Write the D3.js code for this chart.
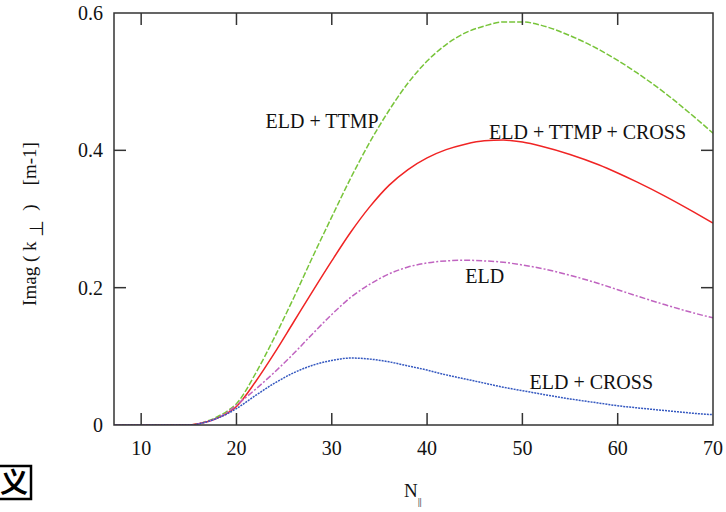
<!DOCTYPE html>
<html lang="en">
<head>
<meta charset="utf-8">
<title>Imag(k perp) vs N parallel</title>
<script src="https://d3js.org/d3.v7.min.js"></script>
<style>
* { margin: 0; padding: 0; }
body { background: #fff; font-family: 'Liberation Serif', 'DejaVu Serif', serif; }
</style>
</head>
<body>
<script>
let w = 726, h = 512;
let padLeft = 114, padRight = 713, padTop = 13, padBottom = 425;

// N parallel sample points
let nPar = [7, 15, 16, 17, 18, 19, 20, 22, 24, 26, 28, 30, 32, 34, 36, 38, 40, 42, 44, 46, 48, 50, 52, 55, 58, 60, 62, 65, 68, 70];

// Imag(k perp) for each case
let eldTtmp = [0, 0, 0.002, 0.006, 0.012, 0.02, 0.031, 0.075, 0.128, 0.185, 0.245, 0.303, 0.36, 0.412, 0.458, 0.498, 0.53, 0.554, 0.571, 0.581, 0.587, 0.587, 0.582, 0.567, 0.547, 0.531, 0.513, 0.483, 0.449, 0.425];
let eldTtmpCross = [0, 0, 0.002, 0.005, 0.01, 0.017, 0.027, 0.063, 0.105, 0.15, 0.195, 0.239, 0.281, 0.318, 0.349, 0.372, 0.389, 0.401, 0.409, 0.414, 0.415, 0.412, 0.406, 0.394, 0.379, 0.367, 0.354, 0.333, 0.31, 0.294];
let eld = [0, 0, 0.0015, 0.005, 0.01, 0.018, 0.029, 0.052, 0.077, 0.104, 0.133, 0.161, 0.186, 0.205, 0.22, 0.23, 0.236, 0.239, 0.24, 0.239, 0.237, 0.233, 0.228, 0.218, 0.206, 0.197, 0.188, 0.175, 0.163, 0.156];
let eldCross = [0, 0, 0.0015, 0.005, 0.01, 0.016, 0.024, 0.043, 0.061, 0.076, 0.087, 0.094, 0.0975, 0.096, 0.092, 0.086, 0.08, 0.073, 0.067, 0.061, 0.055, 0.05, 0.045, 0.038, 0.032, 0.028, 0.025, 0.021, 0.017, 0.015];

let xTicks = [10, 20, 30, 40, 50, 60, 70];
let yTicks = [0, 0.2, 0.4, 0.6];

let series = [
  {name: "ELD + TTMP", vals: eldTtmp, color: "#78c43a", dash: "6,2", lx: 23.05, ly: 0.432},
  {name: "ELD + TTMP + CROSS", vals: eldTtmpCross, color: "#f02424", dash: null, lx: 46.5, ly: 0.417},
  {name: "ELD", vals: eld, color: "#c064c0", dash: "6,2,2,2", lx: 44.0, ly: 0.207},
  {name: "ELD + CROSS", vals: eldCross, color: "#3458c0", dash: "2,1", lx: 50.75, ly: 0.052}
];

let x = d3.scaleLinear().domain([7.15, 70]).range([padLeft, padRight]);
let y = d3.scaleLinear().domain([0, 0.6]).range([padBottom, padTop]);

let svg = d3.select("body").append("svg")
  .attr("width", w)
  .attr("height", h);

let line = d3.line()
  .x((d, i) => x(nPar[i]))
  .y(d => y(d))
  .curve(d3.curveMonotoneX);

svg.append("defs").append("clipPath").attr("id", "plot")
  .append("rect").attr("x", padLeft).attr("y", padTop).attr("width", padRight - padLeft).attr("height", padBottom - padTop);

// curves
svg.append("g").attr("clip-path", "url(#plot)")
  .selectAll("path")
  .data(series)
  .enter()
  .append("path")
  .attr("d", d => line(d.vals))
  .attr("fill", "none")
  .attr("stroke", d => d.color)
  .attr("stroke-width", 1.5)
  .attr("stroke-dasharray", d => d.dash);

// curve labels
svg.append("g").selectAll("text")
  .data(series)
  .enter()
  .append("text")
  .text(d => d.name)
  .attr("x", d => x(d.lx))
  .attr("y", d => y(d.ly))
  .attr("font-size", 20)
  .attr("fill", "#111");

// frame with inward ticks on every side
let axisColor = "#333";
let tickLen = 12;
let frame = svg.append("g").attr("stroke", axisColor).attr("stroke-width", 1.5);
frame.append("rect")
  .attr("x", padLeft).attr("y", padTop)
  .attr("width", padRight - padLeft).attr("height", padBottom - padTop)
  .attr("fill", "none");

let innerX = xTicks.filter(t => t < 70);
frame.selectAll(".xb").data(innerX).enter().append("line")
  .attr("x1", d => x(d)).attr("x2", d => x(d))
  .attr("y1", padBottom).attr("y2", padBottom - tickLen);
frame.selectAll(".xt").data(innerX).enter().append("line")
  .attr("x1", d => x(d)).attr("x2", d => x(d))
  .attr("y1", padTop).attr("y2", padTop + tickLen);

let innerY = yTicks.filter(t => t > 0 && t < 0.6);
frame.selectAll(".yl").data(innerY).enter().append("line")
  .attr("x1", padLeft).attr("x2", padLeft + tickLen)
  .attr("y1", d => y(d)).attr("y2", d => y(d));
frame.selectAll(".yr").data(innerY).enter().append("line")
  .attr("x1", padRight).attr("x2", padRight - tickLen)
  .attr("y1", d => y(d)).attr("y2", d => y(d));

// tick labels
svg.append("g").selectAll("text")
  .data(xTicks)
  .enter()
  .append("text")
  .text(d => d)
  .attr("x", d => x(d))
  .attr("y", padBottom + 30)
  .attr("text-anchor", "middle")
  .attr("font-size", 20)
  .attr("fill", "#111");

svg.append("g").selectAll("text")
  .data(yTicks)
  .enter()
  .append("text")
  .text(d => d === 0 ? "0" : d.toFixed(1))
  .attr("x", padLeft - 11)
  .attr("y", d => y(d) + 7)
  .attr("text-anchor", "end")
  .attr("font-size", 20)
  .attr("fill", "#111");

// axis titles
let xt = svg.append("text")
  .attr("x", 404)
  .attr("y", 497)
  .attr("font-size", 19)
  .attr("fill", "#111");
xt.append("tspan").text("N");
xt.append("tspan").text("||")
  .attr("font-size", 11)
  .attr("letter-spacing", -0.5)
  .attr("dy", 8);

let yt = svg.append("text")
  .attr("transform", "translate(36,224) rotate(-90)")
  .attr("text-anchor", "middle")
  .attr("font-size", 19)
  .style("white-space", "pre")
  .attr("fill", "#111");
yt.append("tspan").text("Imag ( k ");
yt.append("tspan").text("\u22A5").attr("dy", 7).attr("font-family", "'DejaVu Sans', sans-serif").attr("font-size", 19);
yt.append("tspan").text("  )    [m-1]").attr("dy", -7);

// cropped glyph box in the corner
svg.append("rect")
  .attr("x", -3).attr("y", 466)
  .attr("width", 34).attr("height", 33)
  .attr("fill", "#fff")
  .attr("stroke", "#000")
  .attr("stroke-width", 2.5);
svg.append("text")
  .text("\u4E49")
  .attr("x", 14).attr("y", 493)
  .attr("text-anchor", "middle")
  .attr("font-family", "'Noto Sans CJK SC', sans-serif")
  .attr("font-weight", "bold")
  .attr("font-size", 28)
  .attr("fill", "#000");
</script>
</body>
</html>
